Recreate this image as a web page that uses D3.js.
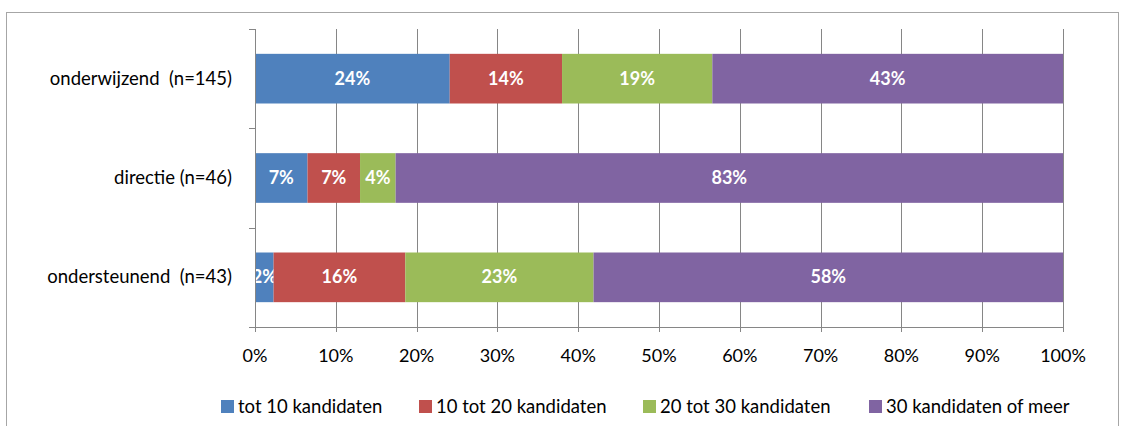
<!DOCTYPE html>
<html>
<head>
<meta charset="utf-8">
<script src="https://cdn.jsdelivr.net/npm/d3@7"></script>
<style>
  body { margin: 0; background: #fff; }
  text { font-family: Lato, "Open Sans", sans-serif; }
</style>
</head>
<body>
<script>
// Categorieën en reeksen (percentages)
var categories = ['onderwijzend  (n=145)', 'directie (n=46)', 'ondersteunend  (n=43)'];
var seriesNames = ['tot 10 kandidaten', '10 tot 20 kandidaten', '20 tot 30 kandidaten', '30 kandidaten of meer'];
var tot10   = [24.1, 6.5, 2.3];
var tot20   = [13.9, 6.5, 16.3];
var tot30   = [18.6, 4.4, 23.3];
var meer30  = [43.4, 82.6, 58.1];
var ticks = [0, 10, 20, 30, 40, 50, 60, 70, 80, 90, 100];
var colors = ['#4F81BD', '#C0504D', '#9BBB59', '#8064A2'];

var WIDTH = 1126, HEIGHT = 426;

var svg = d3.select('body').append('svg')
            .attr('width', WIDTH)
            .attr('height', HEIGHT);

// kader rond de grafiek
svg.append('rect')
   .attr('x', 6.5).attr('y', 12.5)
   .attr('width', 1112).attr('height', 430)
   .attr('fill', 'none')
   .attr('stroke', '#a6a6a6');

var x = d3.scaleLinear().domain([0, 100]).range([255, 1063]);
var y = d3.scaleBand().domain(categories).range([29, 327]).paddingInner(0.5).paddingOuter(0.25);

// rasterlijnen
svg.selectAll('line.grid')
   .data(ticks)
   .enter().append('line')
   .attr('class', 'grid')
   .attr('x1', function(d) { return Math.round(x(d)) + 0.5; })
   .attr('x2', function(d) { return Math.round(x(d)) + 0.5; })
   .attr('y1', 29).attr('y2', 332)
   .attr('stroke', '#868686');

// gestapelde data
var table = categories.map(function(c, i) {
  return { cat: c, v: [tot10[i], tot20[i], tot30[i], meer30[i]] };
});

table.forEach(function(row) {
  var acc = 0;
  row.v.forEach(function(val, j) {
    var x0 = x(acc), x1 = x(acc + val);
    svg.append('rect')
       .attr('x', x0).attr('y', y(row.cat))
       .attr('width', x1 - x0).attr('height', y.bandwidth())
       .attr('fill', colors[j]);
    svg.append('text')
       .attr('x', (x0 + x1) / 2)
       .attr('y', y(row.cat) + y.bandwidth() / 2 + 6)
       .attr('text-anchor', 'middle')
       .attr('fill', '#fff')
       .attr('font-weight', 'bold')
       .attr('font-size', 18)
       .text(Math.round(val) + '%');
    acc += val;
  });
});

// y-as
svg.append('line')
   .attr('x1', 255.5).attr('x2', 255.5)
   .attr('y1', 29).attr('y2', 327)
   .attr('stroke', '#868686');
var bounds = [29, 128.3, 227.7, 327];
svg.selectAll('line.ytick')
   .data(bounds)
   .enter().append('line')
   .attr('x1', 249).attr('x2', 255)
   .attr('y1', function(d) { return Math.round(d) + 0.5; })
   .attr('y2', function(d) { return Math.round(d) + 0.5; })
   .attr('stroke', '#868686');

// x-as
svg.append('line')
   .attr('x1', 249).attr('x2', 1063)
   .attr('y1', 327.5).attr('y2', 327.5)
   .attr('stroke', '#868686');

svg.selectAll('text.xt')
   .data(ticks)
   .enter().append('text')
   .attr('x', function(d) { return x(d); })
   .attr('y', 362)
   .attr('text-anchor', 'middle')
   .attr('font-size', 18)
   .attr('fill', '#000')
   .text(function(d) { return d + '%'; });

svg.selectAll('text.cat')
   .data(categories)
   .enter().append('text')
   .attr('x', 232)
   .attr('y', function(d) { return y(d) + y.bandwidth() / 2 + 6; })
   .attr('text-anchor', 'end')
   .attr('font-size', 18.5)
   .attr('fill', '#000')
   .style('white-space', 'pre')
   .text(function(d) { return d; });

// legenda
var legendX = [221, 419, 643, 869];
seriesNames.forEach(function(name, i) {
  svg.append('rect')
     .attr('x', legendX[i]).attr('y', 400)
     .attr('width', 13).attr('height', 13)
     .attr('fill', colors[i]);
  svg.append('text')
     .attr('x', legendX[i] + 17).attr('y', 413)
     .attr('font-size', 18.5)
     .attr('fill', '#000')
     .text(name);
});
</script>
</body>
</html>
